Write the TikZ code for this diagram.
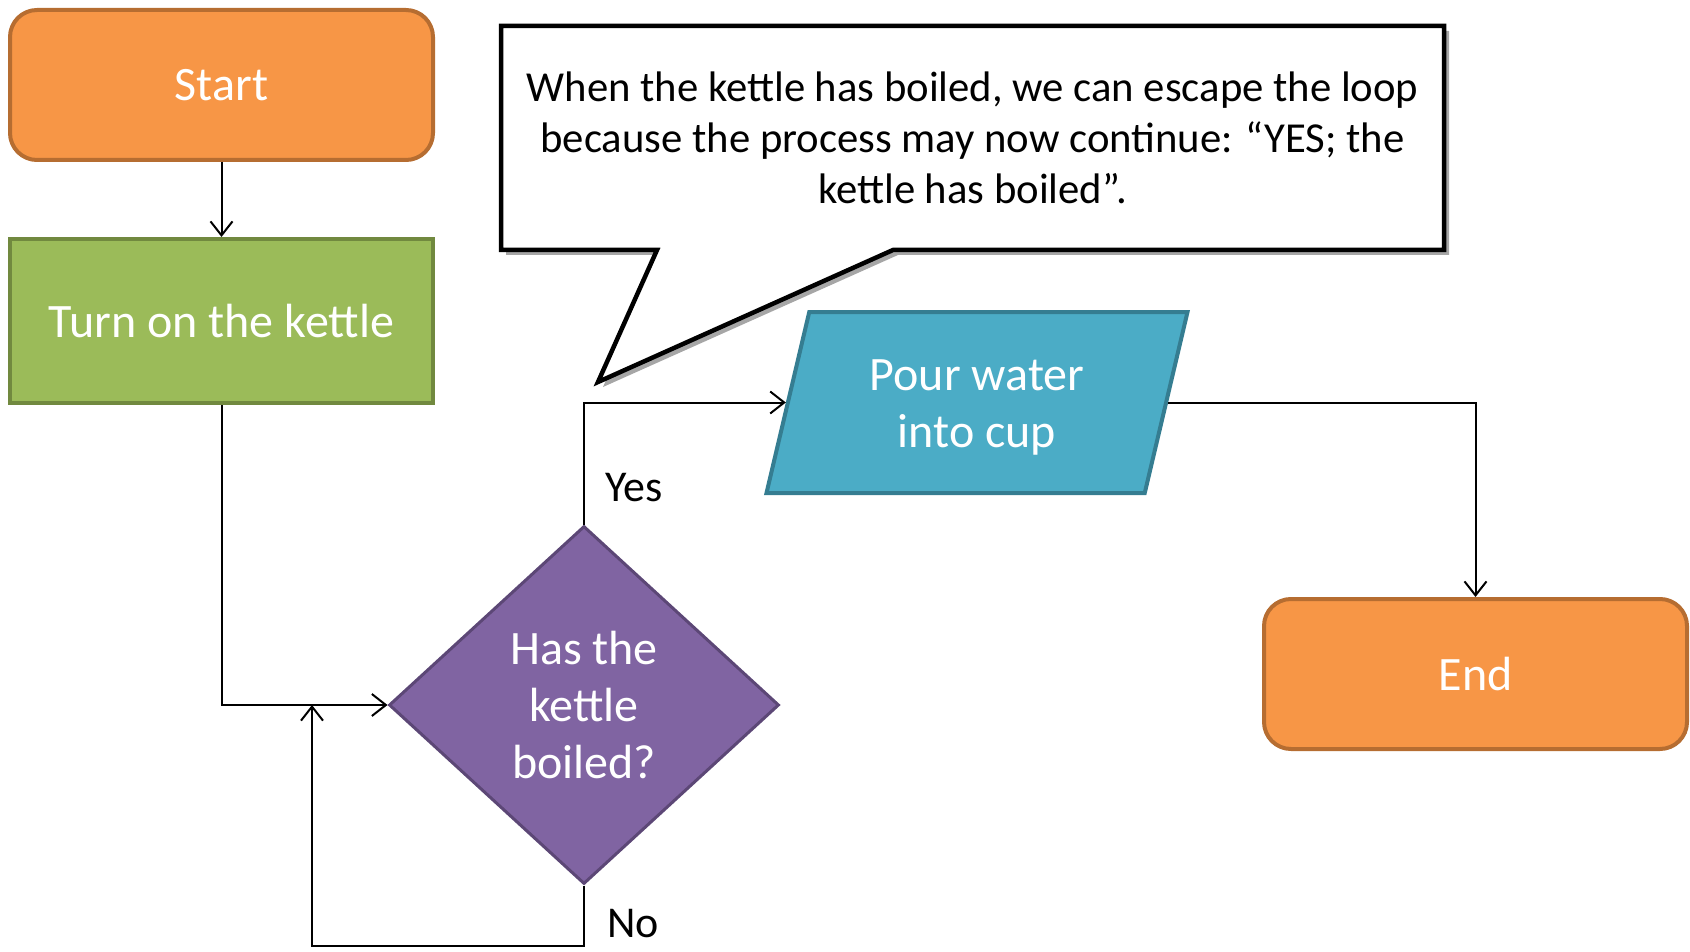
\documentclass[tikz,border=0pt]{standalone}
\usepackage{fontspec}
\setmainfont{Carlito}
\usepackage{tikz}
\usetikzlibrary{shapes.geometric, arrows.meta, positioning, calc, shadows, backgrounds}

\definecolor{termfill}{HTML}{F79646}
\definecolor{termline}{HTML}{B66D31}
\definecolor{procfill}{HTML}{9BBB59}
\definecolor{procline}{HTML}{71893F}
\definecolor{decfill}{HTML}{8064A2}
\definecolor{decline}{HTML}{5C4776}
\definecolor{iofill}{HTML}{4BACC6}
\definecolor{ioline}{HTML}{357D91}

\begin{document}
\begin{tikzpicture}[
    x=1pt, y=1pt,
    terminal/.style={draw=termline, line width=4pt, rounded corners=27pt, fill=termfill, minimum width=423pt,
                     minimum height=150pt, text=white, font=\fontsize{48}{57}\selectfont},
    process/.style={draw=procline, line width=4pt, fill=procfill, minimum width=423pt, minimum height=164pt,
                   text=white, font=\fontsize{48}{57}\selectfont},
    decision/.style={draw=decline, diamond, line width=3pt, fill=decfill, minimum width=390pt,
                    minimum height=358pt, align=center, text=white, font=\fontsize{48}{57}\selectfont},
    iobox/.style={draw=ioline, trapezium, trapezium left angle=69, trapezium right angle=111,
                  trapezium stretches body, line width=4pt, fill=iofill, minimum width=421pt,
                  minimum height=181pt, align=center, text=white, font=\fontsize{48}{57}\selectfont},
    notetext/.style={rectangle, outer sep=0pt, minimum width=943pt, minimum height=224pt, align=center,
                     font=\fontsize{42.7}{51}\selectfont},
    callline/.style={draw, line width=4.5pt, fill=white, line join=miter,
                     drop shadow={shadow xshift=5pt, shadow yshift=-5pt, opacity=0.35, fill=black}},
    branch/.style={inner sep=0pt, font=\fontsize{44}{53}\selectfont},
    arrow/.style={-{Straight Barb[length=14pt, width=22pt]}, line width=2pt}
]
\useasboundingbox (0,0) rectangle (1690,-952);
\node[terminal] (start) at (221.5,-85) {Start};
\node[process, below=75pt of start] (kettle) {Turn on the kettle};
\node[decision] (boil) at (584,-705) {Has the\\kettle\\boiled?};
\node[iobox] (pour) at (977,-402.5) {\rule{0pt}{40pt}Pour water\\into cup};
\node[terminal] (stop) at (1475.5,-674) {End};
\coordinate (tip) at (598,-382);
\coordinate (merge) at (312,-705);
\node[notetext] (note) at (972.5,-138)
    {When the kettle has boiled, we can escape the loop\\because the process may now continue: “YES; the\\kettle has boiled”.};
% speech bubble behind the note text
\begin{scope}[on background layer]
\draw[callline] (note.north west) -- (note.north east) -- (note.south east)
    -- ($(note.south west)+(392,0)$) -- (tip) -- ($(note.south west)+(156,0)$)
    -- (note.south west) -- cycle;
\end{scope}
\draw[arrow] (start) -- (kettle);
\draw[arrow] (kettle.south) |- (boil.west);
\draw[arrow] (boil.north) |- node[branch, pos=0.15, right=20pt] {Yes} (pour.west);
\draw[arrow] (boil.south) -- node[branch, pos=0.63, right=22pt] {No} ++(0,-60) -| (merge);
\draw[arrow] (pour.east) -| (stop.north);
\end{tikzpicture}
\end{document}
